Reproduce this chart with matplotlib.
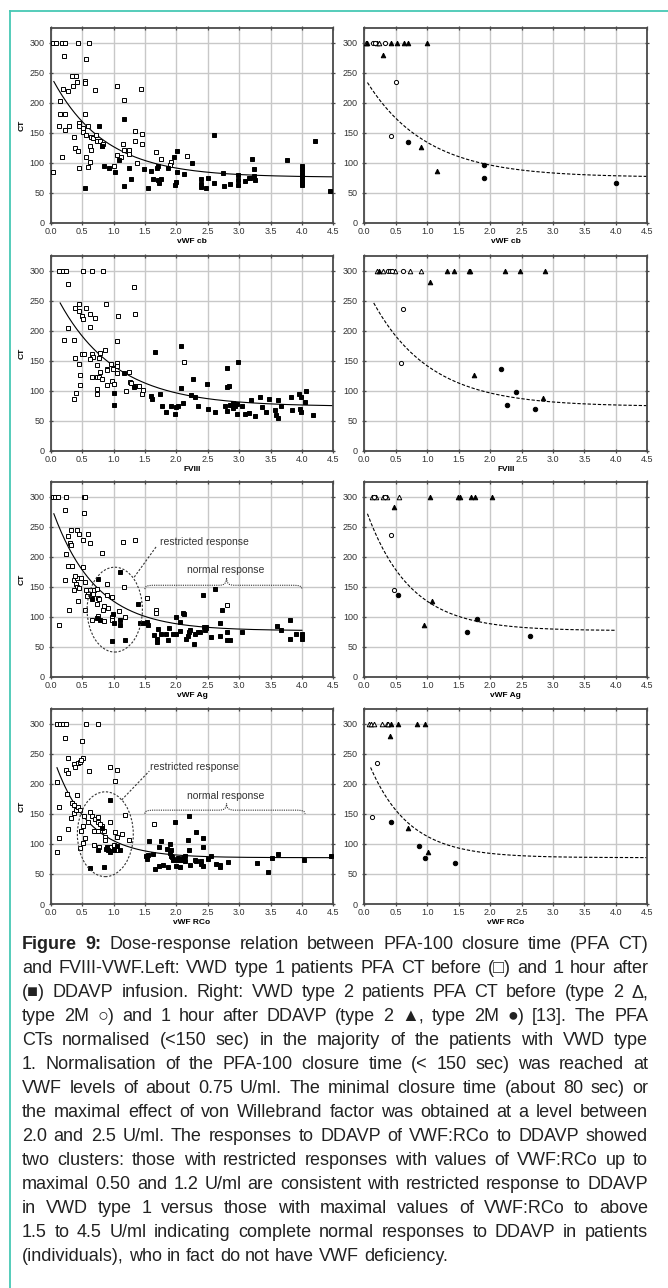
import matplotlib
matplotlib.use('Agg')
import numpy as np
import matplotlib.pyplot as plt
from matplotlib.patches import Ellipse, PathPatch
from matplotlib.path import Path
from matplotlib.lines import Line2D

plt.rcParams['font.family'] = ['Liberation Sans', 'DejaVu Sans']

# ---- data: (vWF level, CT) ----
# left column: VWD type 1, before (open) / after (filled) DDAVP
cb_before = [(0.04, 300), (0.085, 300), (0.175, 300), (0.23, 300), (0.43, 300), (0.605, 300),
             (0.21, 277), (0.56, 272), (0.34, 244), (0.41, 244), (0.35, 227), (0.42, 235),
             (0.54, 236), (0.55, 232), (0.19, 222), (0.28, 219), (0.70, 221), (1.06, 227),
             (1.44, 223), (1.16, 204), (0.15, 203), (0.15, 182), (0.22, 182), (0.55, 182),
             (0.13, 161), (0.29, 161), (0.22, 154), (0.45, 167), (0.445, 162), (0.60, 162),
             (0.51, 158), (0.51, 152), (0.37, 143), (0.56, 146), (0.64, 143), (0.67, 142),
             (0.72, 146), (0.74, 136), (0.79, 136), (0.81, 128), (0.84, 131), (0.63, 128),
             (0.64, 121), (0.38, 125), (0.43, 120), (1.34, 153), (1.45, 148), (1.15, 132),
             (1.34, 136), (1.45, 131), (1.17, 121), (1.24, 121), (1.24, 115), (1.05, 113),
             (1.12, 110), (0.175, 110), (0.56, 110), (1.67, 118), (1.76, 107), (2.17, 111),
             (1.91, 101), (1.90, 96), (1.37, 99), (1.01, 95), (0.62, 101), (0.45, 92),
             (0.60, 93), (0.04, 84)]
cb_after = [(0.77, 162), (1.17, 173), (0.81, 128), (0.85, 95), (0.93, 92), (1.02, 84), (1.08, 104),
            (0.55, 58), (1.17, 61), (1.25, 92), (1.28, 73), (1.48, 89), (1.55, 58), (1.59, 87),
            (1.63, 73), (1.70, 91), (1.71, 95), (1.71, 71), (1.73, 66), (1.75, 73), (1.87, 91),
            (1.97, 110), (2.01, 119), (2.01, 85), (1.99, 68), (1.98, 63), (2.12, 82), (2.25, 99),
            (2.39, 73), (2.39, 65), (2.39, 60), (2.50, 75), (2.48, 59), (2.60, 147), (2.60, 66),
            (2.75, 83), (2.76, 61), (2.86, 65), (2.98, 80), (2.98, 72), (2.99, 63), (3.09, 69),
            (3.15, 75), (3.20, 106), (3.17, 74), (3.23, 78), (3.24, 89), (3.26, 71), (3.77, 104),
            (4.21, 137), (4.45, 53), (4.0, 95), (4.0, 90), (4.0, 85), (4.0, 80), (4.0, 77),
            (4.0, 74), (4.0, 70), (4.0, 66), (4.0, 63)]

fviii_before = [(0.14, 300), (0.19, 300), (0.24, 300), (0.52, 300), (0.66, 300), (0.83, 300),
                (0.28, 278), (1.32, 272), (0.45, 245), (0.88, 245), (0.38, 237), (0.45, 233),
                (0.57, 237), (0.63, 228), (0.71, 221), (1.35, 227), (0.50, 224), (0.52, 219),
                (1.07, 224), (0.27, 204), (0.63, 206), (0.21, 184), (0.37, 184), (1.06, 183),
                (0.50, 161), (0.53, 161), (0.86, 168), (0.66, 162), (0.67, 157), (0.79, 163),
                (0.39, 155), (0.63, 153), (0.77, 155), (0.45, 145), (0.73, 143), (0.96, 145),
                (1.05, 146), (1.06, 142), (0.89, 137), (0.89, 134), (0.99, 137), (1.06, 130),
                (1.25, 131), (0.79, 131), (0.46, 126), (0.65, 123), (0.73, 123), (0.77, 123),
                (0.82, 119), (0.97, 117), (1.26, 114), (1.28, 113), (0.90, 110), (1.00, 111),
                (0.47, 110), (1.35, 108), (1.40, 108), (1.47, 101), (1.46, 95), (0.73, 103),
                (0.73, 95), (0.41, 97), (1.20, 99), (0.37, 86), (2.13, 148)]
fviii_after = [(1.66, 164), (2.07, 174), (1.16, 129), (1.32, 106), (1.01, 97), (1.00, 76), (1.59, 92),
               (1.61, 87), (1.74, 94), (1.78, 74), (1.83, 65), (1.92, 75), (1.98, 62), (1.99, 73),
               (2.02, 74), (2.08, 104), (2.11, 79), (2.26, 120), (2.24, 93), (2.30, 90), (2.35, 74),
               (2.49, 112), (2.50, 69), (2.62, 65), (2.80, 138), (2.80, 106), (2.84, 108), (2.78, 74),
               (2.80, 67), (2.85, 77), (2.91, 80), (2.93, 78), (2.97, 78), (2.93, 74), (2.90, 72),
               (2.96, 62), (2.99, 148), (3.04, 74), (3.09, 62), (3.15, 64), (3.19, 84), (3.26, 59),
               (3.34, 90), (3.36, 73), (3.43, 65), (3.48, 87), (3.57, 68), (3.59, 60), (3.62, 55),
               (3.62, 85), (3.67, 74), (3.82, 90), (3.85, 68), (3.96, 95), (3.98, 90), (3.97, 69),
               (3.99, 65), (4.06, 99), (4.05, 82), (4.17, 60)]

ag_before = [(0.04, 300), (0.07, 300), (0.12, 300), (0.24, 300), (0.53, 300), (0.55, 300),
             (0.22, 278), (0.53, 273), (0.33, 245), (0.42, 245), (0.28, 234), (0.45, 237),
             (0.59, 237), (0.31, 222), (0.32, 219), (0.52, 228), (0.62, 222), (1.15, 224),
             (1.34, 228), (0.82, 206), (0.24, 204), (0.28, 184), (0.34, 184), (0.51, 183),
             (0.23, 162), (0.37, 161), (0.42, 164), (0.49, 164), (0.39, 168), (0.54, 158),
             (0.41, 155), (0.42, 150), (0.45, 148), (0.37, 145), (0.57, 144), (0.63, 144),
             (0.69, 144), (0.73, 146), (0.60, 138), (0.67, 138), (0.58, 135), (0.76, 131),
             (0.77, 129), (0.89, 155), (0.89, 137), (0.97, 133), (0.85, 118), (0.92, 115),
             (0.74, 122), (0.84, 111), (0.44, 126), (0.29, 111), (0.55, 111), (0.75, 102),
             (0.85, 93), (0.66, 95), (0.97, 100), (0.98, 95), (1.08, 109), (1.18, 99),
             (1.16, 149), (0.13, 86), (1.53, 131), (1.68, 112), (1.68, 106), (2.80, 119)]
ag_after = [(0.75, 163), (1.10, 174), (1.39, 121), (0.66, 129), (0.73, 98), (0.79, 95), (0.99, 104),
            (1.01, 90), (1.10, 94), (1.10, 86), (0.98, 60), (1.18, 61), (1.42, 90), (1.48, 89),
            (1.54, 91), (1.55, 87), (1.64, 69), (1.69, 63), (1.70, 58), (1.71, 80), (1.75, 72),
            (1.84, 72), (1.87, 61), (1.88, 82), (1.95, 72), (2.00, 72), (2.00, 99), (2.06, 91),
            (2.06, 77), (2.11, 107), (2.12, 105), (2.16, 64), (2.18, 68), (2.21, 74), (2.22, 78),
            (2.28, 55), (2.30, 72), (2.34, 75), (2.38, 75), (2.42, 137), (2.44, 83), (2.45, 78),
            (2.47, 83), (2.48, 81), (2.61, 147), (2.56, 66), (2.70, 68), (2.73, 111), (2.70, 89),
            (2.80, 74), (2.81, 61), (2.85, 61), (3.04, 74), (3.60, 85), (3.66, 78), (3.81, 95),
            (3.81, 64), (3.90, 72), (4.00, 72), (4.00, 68), (4.00, 64)]

rco_before = [(0.10, 300), (0.15, 300), (0.20, 300), (0.24, 300), (0.57, 300), (0.75, 300),
              (0.22, 276), (0.50, 271), (0.28, 243), (0.37, 233), (0.39, 227), (0.43, 235),
              (0.47, 236), (0.51, 243), (0.49, 239), (0.25, 222), (0.28, 218), (0.61, 221),
              (0.94, 227), (1.06, 222), (1.02, 205), (0.10, 203), (0.26, 183), (0.42, 182),
              (0.34, 168), (0.37, 164), (0.37, 152), (0.40, 156), (0.43, 161), (0.47, 156),
              (0.32, 143), (0.14, 161), (0.63, 153), (0.53, 146), (0.65, 147), (0.71, 142),
              (0.75, 144), (0.76, 137), (0.94, 137), (0.60, 137), (0.48, 122), (0.51, 129),
              (0.69, 122), (0.76, 122), (0.82, 129), (0.85, 122), (0.79, 133), (1.18, 148),
              (1.13, 116), (1.02, 120), (1.05, 112), (1.24, 107), (0.13, 110), (0.55, 110),
              (0.69, 98), (0.77, 94), (0.51, 101), (0.86, 112), (0.86, 107), (0.47, 93),
              (0.10, 86), (0.94, 95), (1.01, 98), (1.05, 90), (1.65, 133), (0.28, 124)]
rco_after = [(0.94, 173), (0.81, 127), (0.76, 90), (0.88, 92), (0.90, 94), (0.91, 89), (0.94, 86),
             (1.00, 90), (1.05, 96), (1.10, 90), (0.63, 60), (0.85, 62), (1.51, 79), (1.53, 75),
             (1.55, 81), (1.57, 104), (1.63, 83), (1.66, 58), (1.72, 94), (1.75, 105), (1.73, 64),
             (1.79, 65), (1.85, 91), (1.87, 61), (1.90, 99), (1.91, 90), (1.90, 84), (1.91, 80),
             (1.93, 78), (1.94, 75), (1.95, 73), (1.98, 137), (2.01, 73), (2.03, 76), (2.06, 73),
             (2.09, 73), (2.11, 76), (2.14, 79), (1.99, 63), (2.06, 62), (2.14, 72), (2.18, 107),
             (2.20, 147), (2.20, 90), (2.22, 65), (2.31, 120), (2.29, 73), (2.32, 72), (2.40, 71),
             (2.42, 109), (2.42, 94), (2.40, 67), (2.43, 63), (2.50, 74), (2.56, 79), (2.63, 67),
             (2.70, 65), (2.70, 61), (2.83, 69), (3.28, 68), (3.46, 54), (3.52, 77), (3.62, 83),
             (4.04, 73), (4.46, 80)]

# right column: VWD type 2 (triangles) / type 2M (circles), open = before, filled = after
cb_t2_before = [(0.03, 300), (0.20, 300), (0.23, 300)]
cb_t2m_before = [(0.14, 300), (0.17, 300), (0.33, 300), (0.50, 234), (0.42, 144)]
cb_t2_after = [(0.05, 300), (0.42, 300), (0.52, 300), (0.63, 300), (0.70, 300), (0.99, 300),
               (0.29, 279), (0.90, 126), (1.16, 86)]
cb_t2m_after = [(0.70, 135), (1.90, 97), (1.91, 75), (4.0, 67)]

fviii_t2_before = [(0.20, 300), (0.29, 300), (0.49, 300), (0.73, 300), (0.90, 300)]
fviii_t2m_before = [(0.38, 300), (0.41, 300), (0.44, 300), (0.61, 300), (0.62, 236), (0.58, 146)]
fviii_t2_after = [(0.23, 300), (1.31, 300), (1.43, 300), (1.66, 300), (1.68, 300), (2.24, 300),
                  (2.47, 300), (2.88, 300), (1.04, 281), (1.75, 127), (2.84, 88)]
fviii_t2m_after = [(2.17, 137), (2.41, 98), (2.27, 76), (2.71, 69)]

ag_t2_before = [(0.13, 300), (0.19, 300), (0.29, 300), (0.36, 300), (0.55, 300)]
ag_t2m_before = [(0.16, 300), (0.33, 300), (0.42, 236), (0.47, 145)]
ag_t2_after = [(1.05, 300), (1.49, 300), (1.52, 300), (1.70, 300), (1.76, 300), (2.03, 300),
               (0.47, 282), (1.07, 127), (0.95, 87)]
ag_t2m_after = [(0.54, 136), (1.63, 75), (1.79, 97), (2.63, 68)]

rco_t2_before = [(0.08, 300), (0.11, 300), (0.15, 300), (0.28, 300), (0.36, 300), (0.38, 300)]
rco_t2m_before = [(0.20, 235), (0.13, 145)]
rco_t2_after = [(0.42, 300), (0.54, 300), (0.84, 300), (0.96, 300), (0.41, 280), (0.69, 126),
                (1.01, 87)]
rco_t2m_after = [(0.42, 136), (0.87, 97), (0.96, 76), (1.45, 68)]

# exponential trend lines CT = a + b*exp(-c*x): (a, b, c, x_from, x_to)
fit_left = {'cb': (76, 169, 1.2, 0.05, 4.5), 'fviii': (74, 203, 1.1, 0.15, 4.5),
            'ag': (77, 209, 1.45, 0.05, 4.0), 'rco': (77, 180, 1.85, 0.10, 4.5)}
fit_right = {'cb': (76, 166, 1.05, 0.05, 4.5), 'fviii': (74, 203, 1.1, 0.15, 4.5),
             'ag': (77, 209, 1.45, 0.05, 4.0), 'rco': (77, 176, 1.6, 0.10, 4.5)}

xlabels = {'cb': 'vWF cb', 'fviii': 'FVIII', 'ag': 'vWF Ag', 'rco': 'vWF RCo'}
x_ticks = [0.0, 0.5, 1.0, 1.5, 2.0, 2.5, 3.0, 3.5, 4.0, 4.5]
y_ticks = [0, 50, 100, 150, 200, 250, 300]

caption_lines = [
    "Figure 9: Dose-response relation between PFA-100 closure time (PFA CT)",
    "and FVIII-VWF.Left: VWD type 1 patients PFA CT before (\u25a1) and 1 hour after",
    "(\u25a0) DDAVP infusion. Right: VWD type 2 patients PFA CT before (type 2 \u0394,",
    "type 2M \u25cb) and 1 hour after DDAVP (type 2 \u25b2, type 2M \u25cf) [13]. The PFA",
    "CTs normalised (<150 sec) in the majority of the patients with VWD type",
    "1. Normalisation of the PFA-100 closure time (< 150 sec) was reached at",
    "VWF levels of about 0.75 U/ml. The minimal closure time (about 80 sec) or",
    "the maximal effect of von Willebrand factor was obtained at a level between",
    "2.0 and 2.5 U/ml. The responses to DDAVP of VWF:RCo to DDAVP showed",
    "two clusters: those with restricted responses with values of VWF:RCo up to",
    "maximal  0.50 and 1.2 U/ml are consistent with restricted response to DDAVP",
    "in VWD type 1 versus those with maximal values of VWF:RCo to  above",
    "1.5 to 4.5 U/ml indicating complete normal responses to DDAVP in patients",
    "(individuals), who in fact do not have VWF deficiency.",
]

W, H = 668, 1288
fig = plt.figure(figsize=(W / 100, H / 100), dpi=100)
teal = '#46c8b4'
fig.add_artist(Line2D([10 / W, 10 / W], [0, 1 - 11 / H], color=teal, lw=1.3))
fig.add_artist(Line2D([10 / W, 1], [1 - 11 / H, 1 - 11 / H], color=teal, lw=1.3))


def rect(x0, x1, ybot, ytop):
    return [x0 / W, 1 - ybot / H, (x1 - x0) / W, (ybot - ytop) / H]


def setup(ax, key, with_ct):
    ax.set_xlim(0, 4.5)
    ax.set_ylim(0, 325)
    ax.set_xticks(x_ticks)
    ax.set_xticklabels([f'{v:.1f}' for v in x_ticks])
    ax.set_yticks(y_ticks)
    ax.grid(True, color='#c8c8c8', lw=1.0)
    ax.set_axisbelow(True)
    for s in ax.spines.values():
        s.set_color('#4a4a4a')
        s.set_linewidth(1.3)
    ax.tick_params(direction='inout', length=3, width=0.9, color='#4a4a4a',
                   labelsize=6.5, labelcolor='#333333', top=True, right=True)
    ax.tick_params(axis='x', pad=1.5)
    ax.tick_params(axis='y', pad=3)
    ax.set_xlabel(xlabels[key], fontsize=6, fontweight='bold', labelpad=1.5)
    if with_ct:
        ax.set_ylabel('CT', fontsize=6, fontweight='bold', labelpad=3)


def pts(ax, data, marker, filled, ms):
    arr = np.array(data)
    ax.plot(arr[:, 0], arr[:, 1], ls='none', marker=marker, ms=ms,
            mfc='black' if filled else 'white', mec='black', mew=0.7, zorder=3)


def trend(ax, p, dashed):
    a, b, c, x0, x1 = p
    xs = np.linspace(x0, x1, 200)
    ax.plot(xs, a + b * np.exp(-c * xs), color='black', lw=0.8,
            ls=(0, (3, 1.6)) if dashed else '-', zorder=2)


def brace(ax, x0, x1, xm, base, end, tip):
    verts = [(x0, end), (x0, base - 1), (x0 + 0.05, base), (x0 + 0.15, base),
             (xm - 0.12, base), (xm - 0.04, base), (xm, base + 3), (xm, tip),
             (xm, base + 3), (xm + 0.04, base), (xm + 0.12, base),
             (x1 - 0.15, base), (x1 - 0.05, base), (x1, base - 1), (x1, end)]
    codes = [Path.MOVETO, Path.CURVE4, Path.CURVE4, Path.CURVE4,
             Path.LINETO, Path.CURVE4, Path.CURVE4, Path.CURVE4,
             Path.CURVE4, Path.CURVE4, Path.CURVE4,
             Path.LINETO, Path.CURVE4, Path.CURVE4, Path.CURVE4]
    ax.add_patch(PathPatch(Path(verts, codes), fill=False, ls=(0, (1, 1)), lw=0.8,
                           ec='#333333', zorder=4))


def annotate(ax, ell, leader, txt1, txt2, br):
    ax.add_patch(Ellipse(ell[0], ell[1], ell[2], fill=False, ls=(0, (2, 1.5)), lw=0.8,
                         ec='#333333', zorder=4))
    ax.plot(leader[0], leader[1], ls=(0, (2, 1.5)), lw=0.8, color='#333333', zorder=4)
    ax.text(txt1[0], txt1[1], 'restricted response', fontsize=7.5, color='#333333',
            ha='left', va='center', zorder=5)
    ax.text(txt2[0], txt2[1], 'normal response', fontsize=7.5, color='#333333',
            ha='center', va='center', zorder=5)
    brace(ax, *br)


left_sets = {'cb': (cb_before, cb_after), 'fviii': (fviii_before, fviii_after),
             'ag': (ag_before, ag_after), 'rco': (rco_before, rco_after)}
right_sets = {'cb': (cb_t2_before, cb_t2m_before, cb_t2_after, cb_t2m_after),
              'fviii': (fviii_t2_before, fviii_t2m_before, fviii_t2_after, fviii_t2m_after),
              'ag': (ag_t2_before, ag_t2m_before, ag_t2_after, ag_t2m_after),
              'rco': (rco_t2_before, rco_t2m_before, rco_t2_after, rco_t2m_after)}

bottoms = [223, 451, 677, 904]
for key, yb in zip(['cb', 'fviii', 'ag', 'rco'], bottoms):
    yt = yb - 195.5
    axl = fig.add_axes(rect(50.7, 333.3, yb, yt))
    setup(axl, key, True)
    before, after = left_sets[key]
    pts(axl, before, 's', False, 3.0)
    pts(axl, after, 's', True, 3.2)
    trend(axl, fit_left[key], False)

    axr = fig.add_axes(rect(364.3, 647.3, yb, yt))
    setup(axr, key, False)
    t2b, t2mb, t2a, t2ma = right_sets[key]
    pts(axr, t2b, '^', False, 3.3)
    pts(axr, t2mb, 'o', False, 3.0)
    pts(axr, t2a, '^', True, 3.3)
    pts(axr, t2ma, 'o', True, 3.2)
    trend(axr, fit_right[key], True)

    if key == 'ag':
        annotate(axl, ((1.02, 112), 0.88, 141), ([1.33, 1.69], [166, 218]),
                 (1.74, 225), (2.79, 178), (1.5, 4.0, 2.8, 152.5, 146, 165))
    if key == 'rco':
        annotate(axl, ((0.87, 116), 0.89, 141), ([1.13, 1.57], [173, 221]),
                 (1.58, 227), (2.79, 180), (1.5, 4.05, 2.8, 156, 150, 167))

# ---- caption, fully justified ----
renderer = fig.canvas.get_renderer()
cap_x0, cap_x1 = 22, 648
base0, lead = 949, 24.0
fs = 13.0
fam = ['Liberation Sans', 'DejaVu Sans']


def word_texts(line, idx):
    words = line.split()
    out = []
    for j, w in enumerate(words):
        bold = (idx == 0 and j < 2)
        t = fig.text(0, 0, w, fontsize=fs, family=fam, color='#222222',
                     fontweight='bold' if bold else 'normal', va='baseline', ha='left')
        out.append(t)
    return out


all_texts = [word_texts(ln, i) for i, ln in enumerate(caption_lines)]
space_w = 0.278 * fs * 100 / 72
natural = []
for texts in all_texts:
    ws = [t.get_window_extent(renderer).width for t in texts]
    natural.append(sum(ws) + space_w * (len(ws) - 1))
scale = min(1.0, (cap_x1 - cap_x0) / max(natural[:-1]))
if scale < 1.0:
    fs = fs * scale
    space_w = space_w * scale
    for texts in all_texts:
        for t in texts:
            t.set_fontsize(fs)

for i, texts in enumerate(all_texts):
    ws = [t.get_window_extent(renderer).width for t in texts]
    if i == len(all_texts) - 1:
        gap = space_w
    else:
        gap = (cap_x1 - cap_x0 - sum(ws)) / (len(ws) - 1)
    x = cap_x0
    y = 1 - (base0 + i * lead) / H
    for t, w in zip(texts, ws):
        t.set_position((x / W, y))
        x += w + gap

fig.savefig('out.png', dpi=100)
